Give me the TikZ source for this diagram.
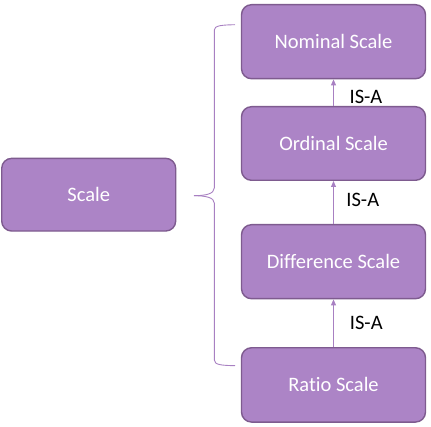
\documentclass[tikz,border=0pt]{standalone}
\usepackage{fontspec}
\setmainfont{Carlito}[Ligatures=NoCommon]
\usetikzlibrary{arrows.meta}
\definecolor{boxfill}{HTML}{AC84C6}
\definecolor{boxdraw}{HTML}{7E5B8F}
\definecolor{linkcol}{HTML}{A880C2}
\tikzset{
  scalebox/.style={draw=boxdraw, line width=1.4pt, fill=boxfill, rounded corners=10pt,
    text=white, font=\fontsize{20.5}{22}\selectfont, inner sep=0pt},
  isa/.style={linkcol, line width=0.9pt, -{Triangle[length=6pt,width=5pt]}},
  isalabel/.style={text=black, font=\fontsize{20.5}{22}\selectfont, inner sep=0pt},
  bracecol/.style={linkcol, line width=0.9pt}
}
\begin{document}
\begin{tikzpicture}[x=1pt,y=1pt]
\useasboundingbox (0,0) rectangle (431,-427);
\node[scalebox, minimum width=184pt, minimum height=74pt] (nom) at (333.5,-41.7) {Nominal Scale};
\node[scalebox, minimum width=184pt, minimum height=73.6pt] (ord) at (333.5,-143.5) {Ordinal Scale};
\node[scalebox, minimum width=184pt, minimum height=74pt] (dif) at (333.5,-261.7) {Difference Scale};
\node[scalebox, minimum width=184pt, minimum height=74.3pt] (rat) at (333.5,-384.9) {Ratio Scale};
\node[scalebox, minimum width=174pt, minimum height=72.7pt] (scale) at (88.7,-194.7) {Scale};
\draw[isa] (ord.north) -- (nom.south);
\draw[isa] (dif.north) -- (ord.south);
\draw[isa] (rat.north) -- (dif.south);
\node[isalabel] (l1) at (366,-97) {IS-A};
\node[isalabel] (l2) at (362.8,-200) {IS-A};
\node[isalabel] (l3) at (366.3,-322.5) {IS-A};
\coordinate (btop) at (235,-24.7);
\coordinate (bbot) at (235,-365.7);
\coordinate (btip) at (194,-195.7);
\draw[bracecol] (btop) .. controls (222,-25) and (214.3,-25.5) .. (214.3,-30)
  -- (214.3,-188) .. controls (214.3,-194) and (205,-195.7) .. (btip);
\draw[bracecol] (bbot) .. controls (222,-365.4) and (214.3,-365) .. (214.3,-360)
  -- (214.3,-203) .. controls (214.3,-197.4) and (205,-195.7) .. (btip);
\end{tikzpicture}
\end{document}
